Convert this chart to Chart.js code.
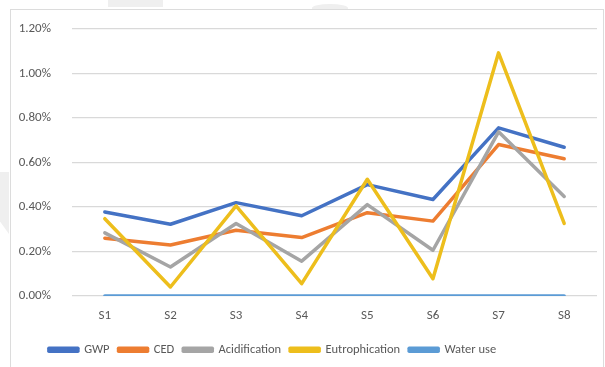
<!DOCTYPE html>
<html>
<head>
<meta charset="utf-8">
<script src="https://cdn.jsdelivr.net/npm/chart.js@4.4.1/dist/chart.umd.min.js"></script>
<style>
  html, body { margin: 0; padding: 0; background: #ffffff; }
  body { width: 605px; height: 367px; position: relative; overflow: hidden; }
  .deco { position: absolute; background: #efefef; }
  #frame { position: absolute; left: 10px; top: 9px; width: 592px; height: 370px;
           border: 1px solid #dcdcdc; background: #ffffff; }
  #wrap { position: absolute; left: 0; top: 0; width: 605px; height: 367px; }
</style>
</head>
<body>
<div class="deco" style="left:108px;top:0;width:55px;height:7px;"></div>
<div class="deco" style="left:312px;top:4px;width:36px;height:8px;border-radius:50% 50% 0 0;"></div>
<div class="deco" style="left:0;top:172px;width:9px;height:62px;clip-path:polygon(0 0,100% 0,100% 100%,0 80%);"></div>
<div id="frame"></div>
<div id="wrap"><canvas id="c" width="605" height="367"></canvas></div>
<script>
// Scenario categories and impact results (share, in %)
const categories = ['S1', 'S2', 'S3', 'S4', 'S5', 'S6', 'S7', 'S8'];
const gwp            = [0.377, 0.322, 0.419, 0.360, 0.500, 0.433, 0.755, 0.668];
const ced            = [0.259, 0.229, 0.295, 0.262, 0.374, 0.336, 0.680, 0.616];
const acidification  = [0.283, 0.130, 0.325, 0.156, 0.410, 0.205, 0.737, 0.447];
const eutrophication = [0.347, 0.040, 0.404, 0.055, 0.524, 0.077, 1.092, 0.326];
const waterUse       = [0, 0, 0, 0, 0, 0, 0, 0];
const yTicks = [0, 0.2, 0.4, 0.6, 0.8, 1.0, 1.2];

const family = 'Carlito, Lato, "Open Sans", sans-serif';
const tickFont = { family, size: 13 };
const legendFont = { family, size: 12.5 };

function series(label, data, color, order) {
  return {
    label, data, order,
    borderColor: color, backgroundColor: color,
    borderWidth: 3.5, pointRadius: 0, pointHoverRadius: 0,
    tension: 0, fill: false, borderJoinStyle: 'round', borderCapStyle: 'round'
  };
}

// nudge the legend row to its place under the plot
const legendShift = {
  id: 'legendShift',
  afterLayout(chart) {
    const lg = chart.legend;
    if (!lg) return;
    const dx = -26, dy = -1;
    lg.left += dx; lg.right += dx;
    lg.top += dy; lg.bottom += dy;
  }
};

new Chart(document.getElementById('c'), {
  type: 'line',
  data: {
    labels: categories,
    datasets: [
      series('GWP', gwp, '#4472C4', 5),
      series('CED', ced, '#ED7D31', 4),
      series('Acidification', acidification, '#A5A5A5', 3),
      series('Eutrophication', eutrophication, '#EDBE1C', 2),
      series('Water use', waterUse, '#5B9BD5', 1)
    ]
  },
  options: {
    responsive: false,
    animation: false,
    layout: { padding: { left: 0, right: 8, top: 20, bottom: 0 } },
    scales: {
      x: {
        offset: true,
        grid: { display: false, drawTicks: false },
        border: { display: false },
        ticks: { color: '#595959', font: tickFont, padding: 12 }
      },
      y: {
        min: 0, max: 1.2,
        afterBuildTicks(scale) { scale.ticks = yTicks.map(v => ({ value: v })); },
        afterFit(scale) { scale.width = 72; },
        grid: { color: '#d9d9d9', lineWidth: 1.3, drawTicks: false },
        border: { display: false },
        ticks: {
          color: '#595959', font: tickFont, padding: 21,
          callback: v => v.toFixed(2) + '%'
        }
      }
    },
    plugins: {
      legend: {
        position: 'bottom',
        labels: {
          color: '#595959', font: legendFont,
          boxWidth: 29, boxHeight: 3, padding: 9,
          sort: (a, b) => a.datasetIndex - b.datasetIndex
        }
      },
      tooltip: { enabled: false }
    }
  },
  plugins: [legendShift]
});
</script>
</body>
</html>
